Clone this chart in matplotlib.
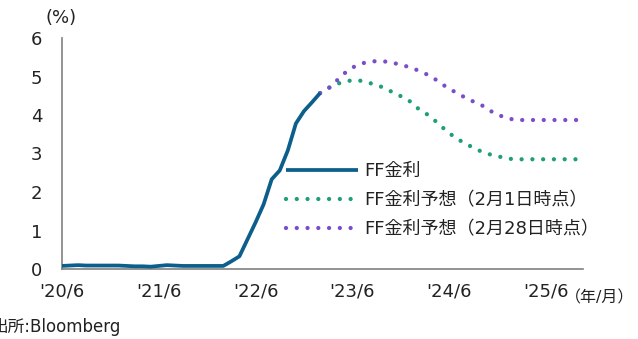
import matplotlib
matplotlib.use("Agg")
import matplotlib.pyplot as plt

plt.rcParams['font.family'] = ['DejaVu Sans', 'Noto Sans CJK JP']

# Months counted from 2020/6 (index 0)
ff_rate = [0.08, 0.09, 0.10, 0.09, 0.09, 0.09, 0.09, 0.09, 0.08, 0.07, 0.07, 0.06,
           0.08, 0.10, 0.09, 0.08, 0.08, 0.08, 0.08, 0.08, 0.08, 0.20, 0.33, 0.77,
           1.21, 1.68, 2.33, 2.56, 3.08, 3.78, 4.10, 4.33, 4.57]

# Forecast paths starting 2023/2 (index 32)
forecast_start = 32
forecast_feb1 = [4.57, 4.70, 4.80, 4.87, 4.90, 4.89, 4.84, 4.78, 4.70, 4.59, 4.49,
                 4.38, 4.19, 4.06, 3.90, 3.71, 3.53, 3.38, 3.26, 3.15, 3.05, 2.98,
                 2.93, 2.88, 2.85, 2.85, 2.85, 2.85, 2.85, 2.85, 2.85, 2.85, 2.85]
forecast_feb28 = [4.57, 4.68, 4.88, 5.08, 5.23, 5.33, 5.38, 5.40, 5.39, 5.36, 5.30,
                  5.25, 5.17, 5.08, 4.97, 4.82, 4.68, 4.57, 4.45, 4.35, 4.26, 4.12,
                  4.01, 3.93, 3.88, 3.87, 3.87, 3.87, 3.87, 3.87, 3.87, 3.87, 3.87]

x_tick_pos = [0, 12, 24, 36, 48, 60]
x_tick_labels = ["'20/6", "'21/6", "'22/6", "'23/6", "'24/6", "'25/6"]
y_ticks = [0, 1, 2, 3, 4, 5, 6]

labels = ["FF金利", "FF金利予想（2月1日時点）", "FF金利予想（2月28日時点）"]
c_ff = '#0b5f8a'
c_feb1 = '#1f9e7a'
c_feb28 = '#7b4ec9'
c_text = '#222222'

fig = plt.figure(figsize=(6.38, 3.39), dpi=100)
ax = fig.add_axes([62 / 638, 1 - 269 / 339, 521 / 638, 231 / 339])

x_ff = list(range(len(ff_rate)))
x_fc = list(range(forecast_start, forecast_start + len(forecast_feb1)))

dot_style = (0, (0.001, 2.5))
ax.plot(x_fc, forecast_feb1, color=c_feb1, lw=3.1, linestyle=dot_style,
        dash_capstyle='round', label=labels[1], zorder=2)
ax.plot(x_fc, forecast_feb28, color=c_feb28, lw=3.1, linestyle=dot_style,
        dash_capstyle='round', label=labels[2], zorder=3)
ax.plot(x_ff, ff_rate, color=c_ff, lw=2.7, solid_capstyle='butt',
        label=labels[0], zorder=4)

ax.set_xlim(0, 64.6)
ax.set_ylim(0, 6)
ax.set_xticks(x_tick_pos)
ax.set_xticklabels(x_tick_labels)
ax.set_yticks(y_ticks)
ax.tick_params(axis='both', length=0, labelsize=13, colors=c_text)
ax.tick_params(axis='y', pad=14)
ax.tick_params(axis='x', pad=10)
for s in ['top', 'right']:
    ax.spines[s].set_visible(False)
for s in ['left', 'bottom']:
    ax.spines[s].set_color('#808080')
    ax.spines[s].set_linewidth(1.2)

handles, labs = ax.get_legend_handles_labels()
order = [2, 0, 1]
leg = ax.legend([handles[i] for i in order], [labs[i] for i in order],
                loc='upper left', bbox_to_anchor=(286 / 638, 1 - 162 / 339),
                bbox_transform=fig.transFigure, frameon=False, fontsize=13,
                handlelength=4.0, handletextpad=0.35, labelspacing=0.62,
                borderaxespad=0, borderpad=0)
for t in leg.get_texts():
    t.set_color(c_text)

fig.text(61 / 638, 1 - 18 / 339, "(%)", ha='center', va='center', fontsize=13, color=c_text)
fig.text(565 / 638, 1 - 298 / 339, "（年/月）", ha='left', va='center', fontsize=11.5, color=c_text)
fig.text(-9 / 638, 1 - 327 / 339, "出所:Bloomberg", ha='left', va='center', fontsize=12, color=c_text)

fig.savefig("out.png", dpi=100)
